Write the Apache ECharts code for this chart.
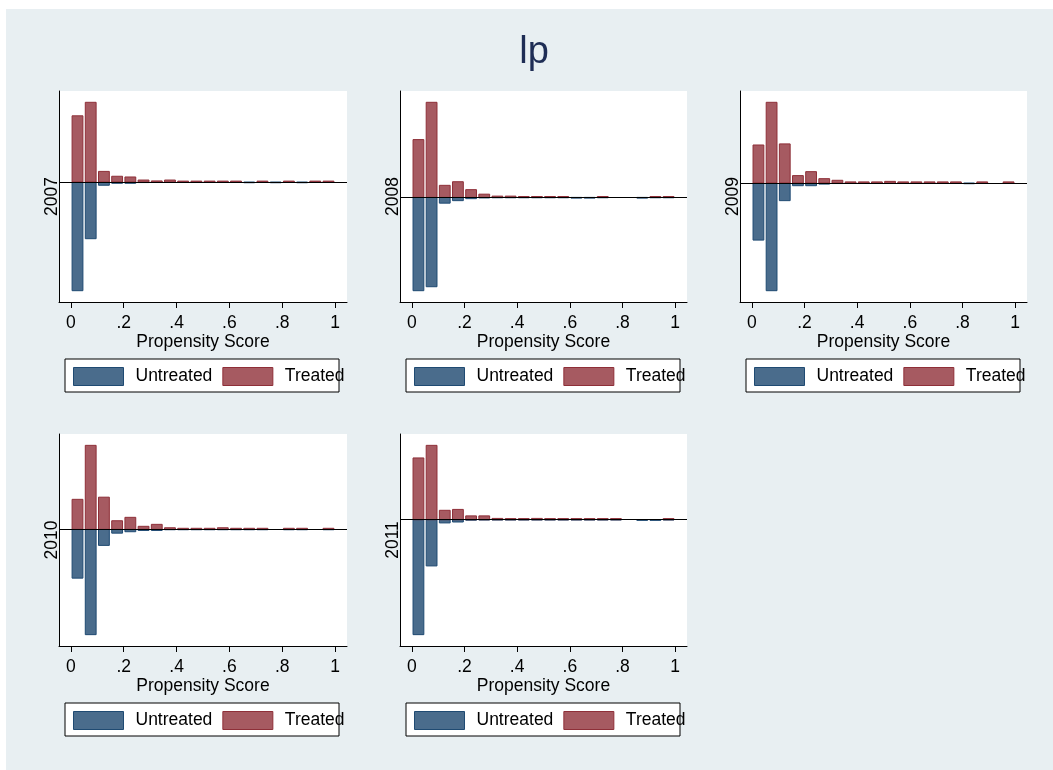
<!DOCTYPE html>
<html>
<head>
<meta charset="utf-8">
<script src="https://cdn.jsdelivr.net/npm/echarts@6/dist/echarts.min.js"></script>
<style>
  html, body { margin: 0; padding: 0; background: #ffffff; }
  #chart { position: absolute; left: 6px; top: 9px; width: 1047px; height: 761px; }
</style>
</head>
<body>
<div id="chart"></div>
<script>
// Propensity score bins (width 0.05), bar centres
const binCenters = [0.025, 0.075, 0.125, 0.175, 0.225, 0.275, 0.325, 0.375, 0.425, 0.475,
                    0.525, 0.575, 0.625, 0.675, 0.725, 0.775, 0.825, 0.875, 0.925, 0.975];
const binHalfWidth = 0.0205;

const years = ['2007', '2008', '2009', '2010', '2011'];

// Share of each group (percent) falling in each bin
const untreated2007 = [60.4, 31.5, 1.8, 0.7, 0.7, 0.3, 0.2, 0.2, 0.2, 0.2, 0.2, 0.2, 0.2, 0.4, 0.2, 0.4, 0.2, 0.4, 0.2, 0.2];
const treated2007   = [36.8, 44.3, 5.9, 3.2, 2.8, 1.1, 0.6, 1.1, 0.5, 0.5, 0.5, 0.5, 0.5, 0, 0.5, 0, 0.5, 0, 0.5, 0.5];

const untreated2008 = [51.8, 49.6, 3.2, 1.8, 0.7, 0.3, 0.2, 0.2, 0.2, 0.2, 0.2, 0.2, 0.4, 0.4, 0.2, 0, 0, 0.4, 0.2, 0.2];
const treated2008   = [32.1, 52.8, 6.7, 8.7, 4.3, 1.8, 0.7, 0.7, 0.5, 0.5, 0.5, 0.5, 0, 0, 0.5, 0, 0, 0, 0.5, 0.5];

const untreated2009 = [31.7, 59.8, 9.8, 1.5, 1.5, 0.6, 0.3, 0.2, 0.2, 0.2, 0.2, 0.2, 0.2, 0.2, 0.2, 0.2, 0.4, 0.2, 0, 0.2];
const treated2009   = [21.1, 44.8, 21.7, 4.1, 6.3, 2.4, 1.5, 0.6, 0.6, 0.6, 0.9, 0.6, 0.6, 0.6, 0.6, 0.6, 0, 0.6, 0, 0.6];

const untreated2010 = [27.1, 58.5, 8.9, 2.1, 1.3, 0.6, 0.6, 0.2, 0.2, 0.2, 0.2, 0.2, 0.2, 0.2, 0.2, 0, 0.2, 0.2, 0, 0.2];
const treated2010   = [16.7, 46.7, 17.9, 4.8, 6.7, 1.7, 2.8, 0.9, 0.6, 0.6, 0.6, 0.9, 0.6, 0.6, 0.6, 0, 0.6, 0.6, 0, 0.6];

const untreated2011 = [63.9, 25.7, 1.8, 1.3, 0.3, 0.2, 0.2, 0.2, 0.2, 0.2, 0.2, 0.2, 0.2, 0.2, 0.2, 0.2, 0, 0.4, 0.4, 0.2];
const treated2011   = [34.3, 41.3, 5.2, 5.7, 2.1, 2.1, 0.7, 0.6, 0.6, 0.7, 0.6, 0.6, 0.6, 0.6, 0.6, 0.6, 0, 0, 0, 0.6];

const xTicks = [0, 0.2, 0.4, 0.6, 0.8, 1];
const xTickLabels = ['0', '.2', '.4', '.6', '.8', '1'];

const untreatedByYear = [untreated2007, untreated2008, untreated2009, untreated2010, untreated2011];
const treatedByYear   = [treated2007, treated2008, treated2009, treated2010, treated2011];

// Panel layout (chart coordinates)
const panels = [
  { left: 53,  top: 82,  width: 288, height: 211 },
  { left: 394, top: 82,  width: 287, height: 211 },
  { left: 734, top: 82,  width: 287, height: 211 },
  { left: 53,  top: 425, width: 288, height: 212 },
  { left: 394, top: 425, width: 287, height: 212 }
];

const FONT = 'Liberation Sans, Arial, Helvetica, sans-serif';
const BLUE_FILL = '#4a6c8c', BLUE_EDGE = '#1f4a72';
const RED_FILL = '#a65a61', RED_EDGE = '#8e2f38';

function barRenderer(fill, edge) {
  return function (params, api) {
    const x = api.value(0), v = api.value(1);
    if (v === 0) return null;
    const a = api.coord([x - binHalfWidth, v]);
    const b = api.coord([x + binHalfWidth, 0]);
    const y0 = Math.min(a[1], b[1]);
    const h = Math.abs(a[1] - b[1]);
    return {
      type: 'rect',
      shape: { x: a[0], y: y0, width: b[0] - a[0], height: h },
      style: { fill: fill, stroke: edge, lineWidth: 1 }
    };
  };
}

const grid = [], xAxis = [], yAxis = [], series = [], legend = [], graphic = [];

panels.forEach((p, i) => {
  const u = untreatedByYear[i], t = treatedByYear[i];
  const maxU = Math.max(...u), maxT = Math.max(...t);
  const pad = 0.06 * (maxU + maxT);

  grid.push({ left: p.left, top: p.top, width: p.width, height: p.height,
              show: true, backgroundColor: '#ffffff', borderWidth: 0 });

  xAxis.push({
    gridIndex: i, type: 'value', min: -0.045, max: 1.045,
    name: 'Propensity Score', nameLocation: 'middle', nameGap: 26,
    nameTextStyle: { fontFamily: FONT, fontSize: 17.5, color: '#000' },
    axisLine: { show: true, onZero: false, lineStyle: { color: '#000', width: 1 } },
    axisTick: { show: true, length: 6, customValues: xTicks, lineStyle: { color: '#000' } },
    axisLabel: { customValues: xTicks, margin: 12, fontFamily: FONT, fontSize: 17.5, color: '#000',
                 formatter: v => xTickLabels[xTicks.indexOf(Math.round(v * 10) / 10)] },
    splitLine: { show: false }
  });

  yAxis.push({
    gridIndex: i, type: 'value', min: -(maxU + pad), max: maxT + pad,
    name: years[i], nameLocation: 'middle', nameRotate: 90, nameGap: -2,
    nameTextStyle: { fontFamily: FONT, fontSize: 17.5, color: '#000' },
    axisLine: { show: true, onZero: false, lineStyle: { color: '#000', width: 1 } },
    axisTick: { show: false }, axisLabel: { show: false }, splitLine: { show: false }
  });

  series.push({
    name: 'Untreated', type: 'custom', xAxisIndex: i, yAxisIndex: i,
    itemStyle: { color: BLUE_FILL },
    renderItem: barRenderer(BLUE_FILL, BLUE_EDGE),
    data: binCenters.map((c, k) => [c, -u[k]])
  });
  series.push({
    name: 'Treated', type: 'custom', xAxisIndex: i, yAxisIndex: i,
    itemStyle: { color: RED_FILL },
    renderItem: barRenderer(RED_FILL, RED_EDGE),
    data: binCenters.map((c, k) => [c, t[k]]),
    markLine: {
      silent: true, symbol: 'none', label: { show: false },
      lineStyle: { color: '#000', width: 1, type: 'solid' },
      data: [{ yAxis: 0 }]
    }
  });

  // Legend frame below each panel
  const boxLeft = p.left + 6, boxTop = p.top + p.height + 57;
  graphic.push({
    type: 'rect', z: 1,
    shape: { x: boxLeft, y: boxTop, width: 274, height: 33 },
    style: { fill: '#ffffff', stroke: '#000', lineWidth: 1 }
  });
  legend.push({
    left: boxLeft + 8, top: boxTop + 8, padding: 0, orient: 'horizontal',
    itemWidth: 50, itemHeight: 18, itemGap: 10, icon: 'rect', z: 5,
    textStyle: { fontFamily: FONT, fontSize: 17.5, color: '#000', padding: [0, 0, 0, 7] },
    data: [
      { name: 'Untreated', itemStyle: { color: BLUE_FILL, borderColor: BLUE_EDGE, borderWidth: 1 } },
      { name: 'Treated', itemStyle: { color: RED_FILL, borderColor: RED_EDGE, borderWidth: 1 } }
    ],
    selectedMode: false
  });
});

const chart = echarts.init(document.getElementById('chart'), null, { renderer: 'canvas' });
chart.setOption({
  backgroundColor: '#e8eff2',
  animation: false,
  title: {
    text: 'lp', left: 523, top: 20, textAlign: 'center',
    textStyle: { fontFamily: FONT, fontSize: 38, fontWeight: 'normal', color: '#1e2d55' }
  },
  grid: grid, xAxis: xAxis, yAxis: yAxis, series: series, legend: legend, graphic: graphic
});
</script>
</body>
</html>
